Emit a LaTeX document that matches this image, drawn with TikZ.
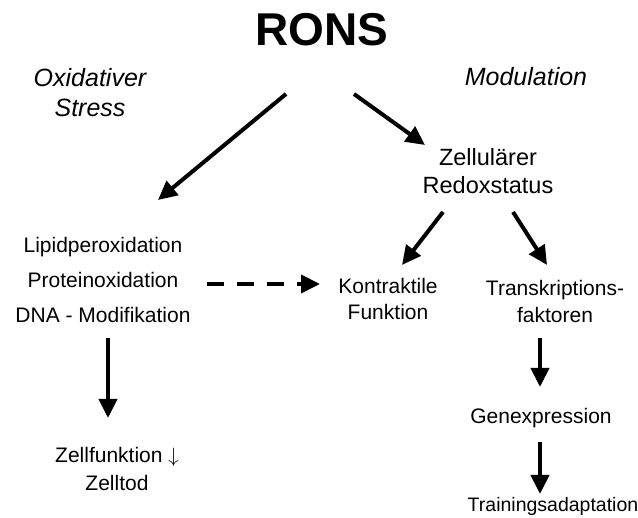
\documentclass[tikz,border=0pt]{standalone}
\usepackage{fontspec}
\setmainfont{Liberation Sans}
\usetikzlibrary{arrows.meta}

\begin{document}
\begin{tikzpicture}[x=1pt,y=1pt]

% definitions
\tikzstyle{bigterm} = [inner sep=0, anchor=base, font=\fontsize{46}{55}\selectfont\bfseries]

\tikzstyle{sidehead} = [inner sep=0, align=center, font=\fontsize{25}{30}\selectfont\itshape]

\tikzstyle{term} = [inner sep=0, align=center, font=\fontsize{21}{35}\selectfont]

\tikzstyle{arrow} = [-{Triangle[length=19pt,width=18pt]}, line width=4pt]

\tikzstyle{dasharrow} = [arrow, dash pattern=on 17pt off 13pt]

\useasboundingbox (0,0) rectangle (638,518);

% the graph
\node (rons) [bigterm] at (322,472) {RONS};

\node (oxstress) [sidehead, anchor=north] at (90,450) {Oxidativer\\Stress};
\node (modul) [sidehead, anchor=base] at (526,432) {Modulation};

\node (redox) [term, anchor=north, font=\fontsize{23.5}{28}\selectfont] at (488,370) {Zellulärer\\Redoxstatus};

\node (lipid) [term, anchor=base] at (103,265) {Lipidperoxidation};
\node (protein) [term, anchor=base] at (103,230) {Proteinoxidation};
\node (dna) [term, anchor=base] at (103,195) {DNA - Modifikation};

\node (kontr) [term, anchor=north, font=\fontsize{21}{26}\selectfont] at (388,240) {Kontraktile\\Funktion};
\node (transk) [term, anchor=north, font=\fontsize{21}{27}\selectfont] at (555,238) {Transkriptions-\\faktoren};

\node (zellf) [term, anchor=north, font=\fontsize{21}{28}\selectfont] at (117,71) {Zellfunktion $\downarrow$\\Zelltod};

\node (genex) [term, anchor=base] at (541,94) {Genexpression};
\node (train) [term, anchor=base, font=\fontsize{19.5}{24}\selectfont] at (553,6) {Trainingsadaptation};


\draw [arrow] ([shift={(-36,-48)}]rons.base) -- ([shift={(55,53)}]lipid.base);
\draw [arrow] ([shift={(32,-48)}]rons.base) -- ([shift={(-63,3)}]redox.north);
\draw [arrow] ([shift={(-45,-64)}]redox.north) -- ([shift={(14,13)}]kontr.north);
\draw [arrow] ([shift={(25,-64)}]redox.north) -- ([shift={(-8,15)}]transk.north);
\draw [dasharrow] ([shift={(104,4)}]protein.base) -- ([shift={(-68,-6)}]kontr.north);
\draw [arrow] ([shift={(5,-15)}]dna.base) -- ([shift={(-9,29)}]zellf.north);
\draw [arrow] ([shift={(-15,-58)}]transk.north) -- ([shift={(-1,37)}]genex.base);
\draw [arrow] ([shift={(-1,-18)}]genex.base) -- ([shift={(-13,18)}]train.base);

\end{tikzpicture}
\end{document}
